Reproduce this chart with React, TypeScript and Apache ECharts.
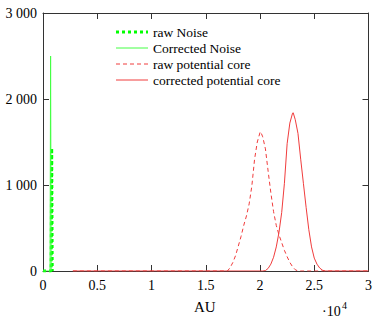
import React, { useEffect, useRef } from "react";
import * as echarts from "echarts";

const seriesNames = ["raw Noise", "Corrected Noise", "raw potential core", "corrected potential core"];

const rawNoiseX = [0, 750, 800, 850];
const rawNoiseY = [0, 0, 1430, 0];

const corrNoiseX = [0, 650, 700, 750];
const corrNoiseY = [0, 0, 2500, 0];

const rawCoreX = [2750, 17000, 17250, 17500, 17750, 18000, 18250, 18500, 18750, 19000, 19250, 19500, 19750, 20000, 20060, 20250, 20500, 20750, 21000, 21250, 21500, 21750, 22000, 22250, 22500, 22750, 23000, 23250, 23500, 30000];
const rawCoreY = [0, 0, 40, 100, 180, 290, 400, 530, 640, 780, 990, 1300, 1500, 1610, 1620, 1560, 1420, 1160, 910, 690, 530, 420, 330, 240, 166, 100, 50, 15, 0, 0];

const corrCoreX = [2750, 20250, 20500, 20750, 21000, 21250, 21500, 21750, 22000, 22250, 22500, 22750, 23000, 23060, 23250, 23500, 23750, 24000, 24250, 24500, 24750, 25000, 25250, 25500, 25750, 26000, 30000];
const corrCoreY = [0, 0, 5, 30, 80, 160, 280, 450, 680, 1020, 1480, 1720, 1835, 1840, 1760, 1600, 1300, 1020, 740, 480, 280, 150, 80, 35, 10, 0, 0];

const xTickLabels: Record<number, string> = { 0: "0", 5000: "0.5", 10000: "1", 15000: "1.5", 20000: "2", 25000: "2.5", 30000: "3" };
const yTickLabels: Record<number, string> = { 0: "0", 1000: "1 000", 2000: "2 000", 3000: "3 000" };

const FONT = "Liberation Serif";
const GREEN = "#00ff00";
const GREEN_THIN = "#44ff44";
const RED = "#f03c3c";

function pairs(xs: number[], ys: number[]) {
  return xs.map((x, i) => [x, ys[i]]);
}

function mkLine() {
  return { show: true, onZero: false, lineStyle: { color: "#333", width: 1 } };
}
function mkTick() {
  return { show: true, inside: true, length: 6, lineStyle: { color: "#333", width: 1 } };
}

const legendStyles = [
  { stroke: GREEN, lineWidth: 3, lineDash: [3, 3] },
  { stroke: GREEN_THIN, lineWidth: 1 },
  { stroke: RED, lineWidth: 1, lineDash: [4, 3] },
  { stroke: RED, lineWidth: 1 },
];

export default function App() {
  const ref = useRef<HTMLDivElement>(null);
  useEffect(() => {
    if (!ref.current) return;
    const chart = echarts.init(ref.current, undefined, { renderer: "svg" });
    const legendGraphics: any[] = [];
    seriesNames.forEach((name, i) => {
      const y = 32 + i * 16;
      legendGraphics.push({
        type: "line",
        shape: { x1: 116, y1: y, x2: 148, y2: y },
        style: { ...legendStyles[i] },
        z: 100,
      });
      legendGraphics.push({
        type: "text",
        x: 153,
        y: y,
        style: { text: name, font: `13.5px "${FONT}"`, fill: "#000", verticalAlign: "middle", align: "left" },
        z: 100,
      });
    });
    chart.setOption({
      animation: false,
      backgroundColor: "#fff",
      grid: { left: 43, right: 6, top: 13, bottom: 47, containLabel: false },
      xAxis: [
        {
          type: "value",
          position: "bottom",
          min: 0,
          max: 30000,
          interval: 5000,
          axisLine: mkLine(),
          axisTick: mkTick(),
          splitLine: { show: false },
          axisLabel: {
            fontFamily: FONT,
            fontSize: 14,
            color: "#000",
            margin: 7,
            formatter: (v: number) => xTickLabels[v] ?? "",
          },
        },
        {
          type: "value",
          position: "top",
          min: 0,
          max: 30000,
          interval: 5000,
          axisLine: mkLine(),
          axisTick: mkTick(),
          splitLine: { show: false },
          axisLabel: { show: false },
        },
      ],
      yAxis: [
        {
          type: "value",
          position: "left",
          min: 0,
          max: 3000,
          interval: 1000,
          axisLine: mkLine(),
          axisTick: mkTick(),
          splitLine: { show: false },
          axisLabel: {
            fontFamily: FONT,
            fontSize: 14,
            color: "#000",
            margin: 6,
            formatter: (v: number) => yTickLabels[v] ?? "",
          },
        },
        {
          type: "value",
          position: "right",
          min: 0,
          max: 3000,
          interval: 1000,
          axisLine: mkLine(),
          axisTick: mkTick(),
          splitLine: { show: false },
          axisLabel: { show: false },
        },
      ],
      graphic: [
        {
          type: "text",
          x: 194,
          y: 307,
          style: { text: "AU", font: `15px "${FONT}"`, fill: "#000", verticalAlign: "middle" },
        },
        {
          type: "text",
          x: 322,
          y: 311,
          style: { text: "·10", font: `14px "${FONT}"`, fill: "#000", verticalAlign: "middle" },
        },
        {
          type: "text",
          x: 342,
          y: 305,
          style: { text: "4", font: `10px "${FONT}"`, fill: "#000", verticalAlign: "middle" },
        },
        ...legendGraphics,
      ],
      series: [
        {
          name: seriesNames[0],
          type: "line",
          symbol: "none",
          data: pairs(rawNoiseX, rawNoiseY),
          lineStyle: { color: GREEN, width: 3, type: [3, 3] },
          itemStyle: { color: GREEN },
          z: 3,
        },
        {
          name: seriesNames[1],
          type: "line",
          symbol: "none",
          data: pairs(corrNoiseX, corrNoiseY),
          lineStyle: { color: GREEN_THIN, width: 1 },
          itemStyle: { color: GREEN_THIN },
          z: 4,
        },
        {
          name: seriesNames[2],
          type: "line",
          symbol: "none",
          data: pairs(rawCoreX, rawCoreY),
          lineStyle: { color: RED, width: 1, type: [4, 3] },
          itemStyle: { color: RED },
          z: 2,
        },
        {
          name: seriesNames[3],
          type: "line",
          symbol: "none",
          data: pairs(corrCoreX, corrCoreY),
          lineStyle: { color: RED, width: 1 },
          itemStyle: { color: RED },
          z: 2,
        },
      ],
    });
    return () => chart.dispose();
  }, []);
  return <div ref={ref} style={{ width: 375, height: 318, position: "absolute", left: 0, top: 0 }} />;
}
